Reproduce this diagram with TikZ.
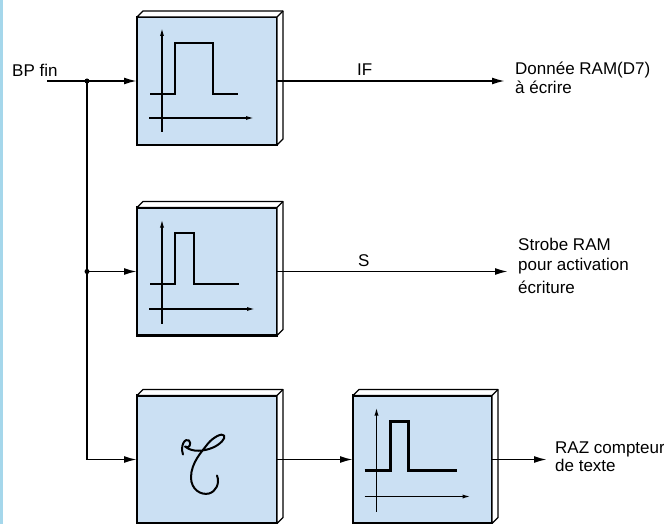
\documentclass[tikz,border=0pt]{standalone}
\usepackage{fontspec}
\setmainfont{Liberation Sans}
\usetikzlibrary{arrows.meta,calc}
\definecolor{boxblue}{RGB}{203,224,243}
\definecolor{stripblue}{RGB}{165,215,235}
\begin{document}
\begin{tikzpicture}[x=1pt,y=-1pt,
  blk/.style={draw=black,fill=boxblue,line width=2.6pt,minimum width=140pt,minimum height=128pt,inner sep=0pt,outer sep=0pt},
  wire/.style={line width=1.9pt},
  arr/.style={wire,-{Latex[length=13pt,width=7pt]}},
  sig/.style={line width=2.3pt,line join=miter},
  axis/.style={line width=1.6pt},
  axarr/.style={axis,-{Latex[length=9pt,width=4pt]}},
  lbl/.style={font=\fontsize{17}{20}\selectfont,inner sep=0pt,anchor=base west},
  side/.style={fill=white,draw=black,line width=1.3pt,line join=round},
  dot/.style={circle,fill=black,inner sep=0pt,minimum size=5pt},
  taustroke/.style={line width=2pt,line cap=round,line join=round}
]
\useasboundingbox (0,0) rectangle (664,524);
\fill[stripblue] (0,0) rectangle (3,524);

% blocks
\node[blk] (b1) at (207,81) {};
\node[blk] (b2) at (207,271.5) {};
\node[blk] (b3) at (207,459.5) {};
\node[blk,minimum width=139pt] (b4) at (422.5,459.5) {};

\foreach \b in {b1,b2,b3,b4} {
  \draw[side] (\b.north west) -- ($(\b.north west)+(6pt,6pt)$) -- ($(\b.north east)+(6pt,6pt)$)
     -- ($(\b.south east)+(6pt,6pt)$) -- (\b.south east) -- (\b.north east) -- cycle;
  \draw[line width=1.3pt] (\b.north east) -- ($(\b.north east)+(6pt,6pt)$);
}

% pulse diagrams
\begin{scope}[shift={(b1.center)}]
  \draw[axarr] (-45,51) -- (-45,-54);
  \draw[axarr] (-58,37) -- (48,37);
  \draw[sig] (-57,13) -- (-32,13) -- (-32,-38) -- (6,-38) -- (6,13) -- (31,13);
\end{scope}
\begin{scope}[shift={(b2.center)}]
  \draw[axarr] (-45,52) -- (-45,-53);
  \draw[axarr] (-58,37.5) -- (49,37.5);
  \draw[sig] (-57,12.5) -- (-32,12.5) -- (-32,-38.5) -- (-13,-38.5) -- (-13,12.5) -- (32,12.5);
\end{scope}
\begin{scope}[shift={(b4.center)}]
  \draw[axarr] (-46,52) -- (-46,-53);
  \draw[axarr] (-58,37) -- (49,37);
  \draw[sig] (-58,11) -- (-32,11) -- (-32,-38) -- (-14,-38) -- (-14,11) -- (34,11);
\end{scope}
% tau symbol
\begin{scope}[shift={(b3.center)}]
  \draw[taustroke] (-24,-5) .. controls (-27,-14) and (-22,-22) .. (-18,-19)
    .. controls (-15,-16) and (-18,-10) .. (-22,-13)
    .. controls (-15,-7) and (-3,-8) .. (6,-12)
    .. controls (13,-15) and (19,-21) .. (17,-24)
    .. controls (15,-27) and (6,-22) .. (1,-16)
    .. controls (-5,-8) and (-16,3) .. (-16,18)
    .. controls (-16,30) and (-6,36) .. (2,34)
    .. controls (9,32) and (13,24) .. (10,16);
\end{scope}

% input
\coordinate (in) at (47,81);
\node[lbl] (bp) at (12,77) {BP fin};
\node[dot] (j1) at (87,81) {};
\node[dot] (j2) at (87,271.5) {};
\draw[arr] (in) -- (b1.west);
\draw[arr] (j2.center) -- (b2.west);
\draw[arr] (j1.center) |- (b3.west);

% outputs
\coordinate (o1) at (505,81);
\draw[arr] (b1.east) -- (o1);
\node[lbl] (lif) at (357,76) {IF};
\node[lbl] (t1a) at (515,75) {Donnée RAM(D7)};
\node[lbl] (t1b) at (515,94) {à écrire};

\coordinate (o2) at (508,271.5);
\draw[arr] (b2.east) -- (o2);
\node[lbl] (ls) at (358,266) {S};
\node[lbl] (t2a) at (518,250) {Strobe RAM};
\node[lbl] (t2b) at (518,270) {pour activation};
\node[lbl] (t2c) at (518,293) {écriture};

\draw[arr] (b3.east) -- (b4.west);
\coordinate (o3) at (547,459.5);
\draw[arr] (b4.east) -- (o3);
\node[lbl] (t3a) at (555,453) {RAZ compteur};
\node[lbl] (t3b) at (555,471) {de texte};
\end{tikzpicture}
\end{document}
